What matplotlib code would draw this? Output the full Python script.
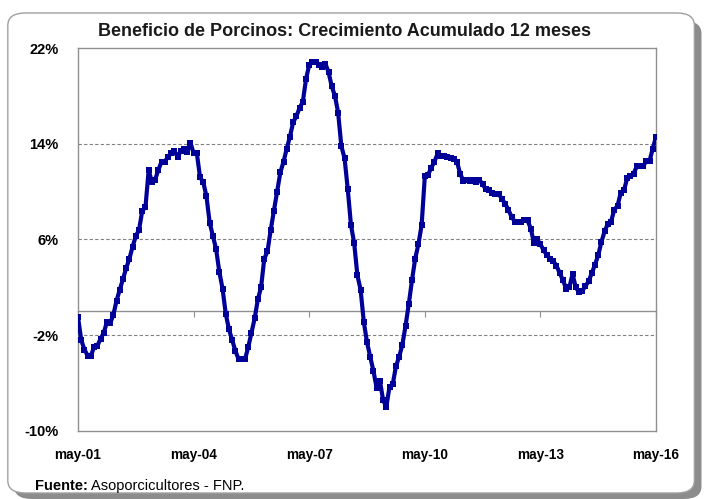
import numpy as np
import matplotlib.pyplot as plt
from matplotlib.patches import FancyBboxPatch

# crecimiento acumulado 12 meses (%), mensual may-01 .. may-16
crecimiento = [
    -0.5, -2.4, -3.2, -3.7, -3.7, -3.0, -2.9, -2.3, -1.8, -0.9,
    -1.0, -0.3, 0.9, 1.8, 2.7, 3.6, 4.4, 5.4, 6.3, 6.8,
    8.4, 8.7, 11.8, 10.8, 11.0, 11.8, 12.5, 12.5, 12.9, 13.2,
    13.4, 12.9, 13.4, 13.6, 13.3, 14.1, 13.2, 13.2, 11.2, 10.8,
    9.6, 7.4, 6.3, 5.2, 3.3, 1.9, -0.2, -1.5, -2.4, -3.3,
    -4.0, -4.0, -4.0, -3.0, -1.8, -0.6, 1.0, 2.0, 4.4, 5.0,
    6.8, 8.4, 10.0, 11.6, 12.5, 13.6, 14.6, 15.8, 16.3, 17.0,
    17.5, 19.4, 20.6, 20.8, 20.8, 20.6, 20.4, 20.7, 20.0, 18.8,
    18.0, 16.6, 13.8, 12.8, 10.2, 7.2, 5.7, 3.0, 1.8, -0.9,
    -2.6, -3.8, -5.0, -6.4, -5.8, -7.4, -8.0, -6.3, -6.1, -4.6,
    -3.8, -2.8, -1.2, 0.6, 2.6, 4.4, 5.6, 7.2, 11.3, 11.4,
    12.0, 12.5, 13.2, 13.0, 13.0, 12.9, 12.8, 12.7, 12.5, 11.5,
    10.9, 11.0, 10.9, 11.0, 10.8, 11.0, 10.6, 10.2, 10.1, 9.9,
    9.8, 9.8, 9.4, 9.0, 8.5, 7.9, 7.5, 7.45, 7.45, 7.6,
    7.6, 6.9, 5.7, 6.0, 5.6, 5.1, 4.7, 4.4, 4.2, 3.8,
    3.2, 2.6, 1.9, 2.0, 3.1, 2.0, 1.6, 1.7, 2.1, 2.5,
    3.2, 3.9, 4.7, 5.8, 6.7, 7.3, 7.5, 8.5, 8.8, 9.9,
    10.1, 11.1, 11.3, 11.5, 12.1, 12.1, 12.1, 12.6, 12.6, 13.6,
    14.6,
]
etiquetas_x = ['may-01', 'may-04', 'may-07', 'may-10', 'may-13', 'may-16']
ticks_y = [-10, -2, 6, 14, 22]

plt.rcParams['font.family'] = ['Liberation Sans', 'DejaVu Sans']

fig = plt.figure(figsize=(7.1, 4.99), dpi=100)

# marco redondeado con sombra
sombra = FancyBboxPatch((0.02, 0.0), 0.968, 0.958, boxstyle='round,pad=0,rounding_size=0.025',
                        transform=fig.transFigure, facecolor='#8c8c8c', edgecolor='none', zorder=0)
marco = FancyBboxPatch((0.011, 0.012), 0.967, 0.962, boxstyle='round,pad=0,rounding_size=0.025',
                       transform=fig.transFigure, facecolor='white', edgecolor='#a0a0a0',
                       linewidth=1.0, zorder=1)
fig.patches.extend([sombra, marco])

ax = fig.add_axes([0.1099, 0.1363, 0.8141, 0.7675])
ax.set_zorder(2)

x = np.arange(len(crecimiento))
ax.plot(x, crecimiento, color='#000099', linewidth=3.0, marker='s', markersize=4,
        markeredgewidth=0, zorder=3)

ax.set_xlim(0, len(crecimiento) - 1)
ax.set_ylim(-10, 22)
ax.set_yticks(ticks_y)
ax.set_yticklabels([f'{t}%' for t in ticks_y])
ax.set_xticks(np.arange(0, len(crecimiento), 36))
ax.set_xticklabels(etiquetas_x)
ax.tick_params(axis='both', length=0)
ax.tick_params(axis='y', pad=14, labelsize=10.5)
ax.tick_params(axis='x', pad=12, labelsize=9.8)
for lbl in ax.get_xticklabels() + ax.get_yticklabels():
    lbl.set_fontweight('bold')

for v in ticks_y[1:-1]:
    ax.axhline(v, color='#808080', linestyle=(0, (3, 2)), linewidth=0.8, zorder=1)

for s in ax.spines.values():
    s.set_color('#909090')
    s.set_linewidth(1.0)

# eje en cero con marcas de graduacion
eje0 = ax.secondary_xaxis(10 / 32)
eje0.set_xticks(np.arange(0, len(crecimiento), 36))
eje0.tick_params(axis='x', direction='out', length=4, color='#909090', labelbottom=False)
eje0.spines['bottom'].set_color('#909090')
eje0.spines['bottom'].set_linewidth(1.0)

fig.text(0.485, 0.936, 'Beneficio de Porcinos: Crecimiento Acumulado 12 meses',
         ha='center', va='center', fontsize=13, fontweight='bold', color='#1a1a1a')

t1 = fig.text(0.049, 0.026, 'Fuente:', fontsize=10.5, fontweight='bold', va='center')
fig.canvas.draw()
bb = t1.get_window_extent().transformed(fig.transFigure.inverted())
fig.text(bb.x1 + 0.004, 0.026, 'Asoporcicultores - FNP.', fontsize=10.5, va='center')

fig.savefig('out.png', dpi=100)
